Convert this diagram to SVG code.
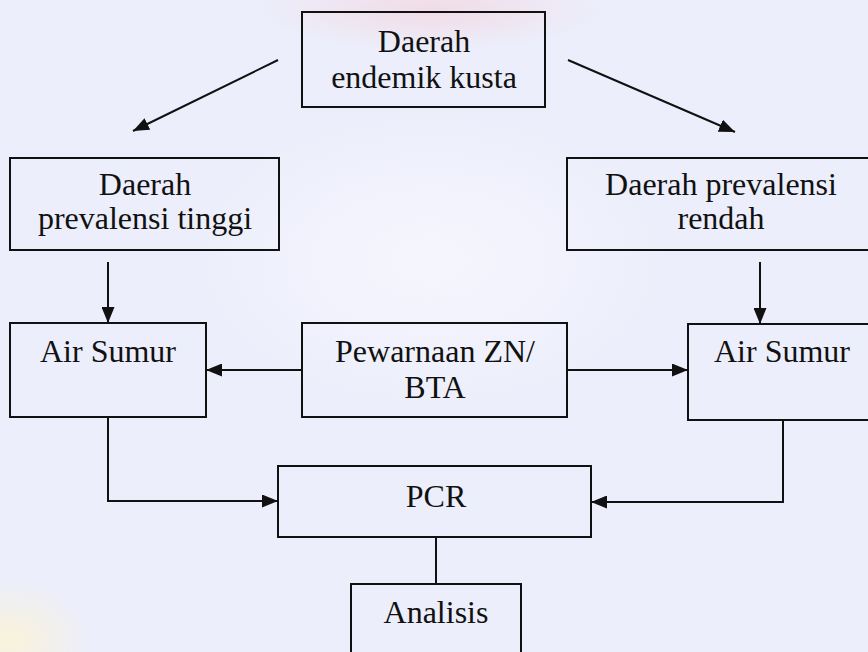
<svg xmlns="http://www.w3.org/2000/svg" width="868" height="652" viewBox="0 0 868 652">
  <defs>
    <marker id="arr" viewBox="0 0 16 13" refX="16" refY="6.5" markerWidth="16" markerHeight="13" markerUnits="userSpaceOnUse" orient="auto">
      <path d="M0,0 L16,6.5 L0,13 Z" fill="#111"/>
    </marker>
    <radialGradient id="pink" cx="0.5" cy="0.5" r="0.5">
      <stop offset="0" stop-color="#f6c9d0" stop-opacity="0.5"/>
      <stop offset="1" stop-color="#f6c9d0" stop-opacity="0"/>
    </radialGradient>
    <radialGradient id="yel" cx="0.5" cy="0.5" r="0.5">
      <stop offset="0" stop-color="#fbf3d6" stop-opacity="0.9"/>
      <stop offset="1" stop-color="#fbf3d6" stop-opacity="0"/>
    </radialGradient>
    <radialGradient id="wht" cx="0.5" cy="0.5" r="0.5">
      <stop offset="0" stop-color="#f8f8fe" stop-opacity="0.8"/>
      <stop offset="1" stop-color="#f8f8fe" stop-opacity="0"/>
    </radialGradient>
    <style>
      .box { fill: none; stroke: #111; stroke-width: 2; }
      .ln { fill: none; stroke: #111; stroke-width: 2; }
      .t { font-family: "Liberation Serif", "Times New Roman", serif; font-size: 32px; fill: #111; text-anchor: middle; }
    </style>
  </defs>
  <rect x="0" y="0" width="868" height="652" fill="#eceefb"/>
  <ellipse cx="430" cy="10" rx="170" ry="40" fill="url(#pink)"/>
  <ellipse cx="10" cy="640" rx="80" ry="60" fill="url(#yel)"/>
  <ellipse cx="430" cy="260" rx="240" ry="150" fill="url(#wht)"/>

  <g id="connectors">
    <line class="ln" x1="278" y1="60" x2="133" y2="131" marker-end="url(#arr)"/>
    <line class="ln" x1="568" y1="60" x2="735" y2="132" marker-end="url(#arr)"/>
    <line class="ln" x1="108" y1="262" x2="108" y2="323" marker-end="url(#arr)"/>
    <line class="ln" x1="760" y1="262" x2="760" y2="324" marker-end="url(#arr)"/>
    <line class="ln" x1="302" y1="370" x2="206" y2="370" marker-end="url(#arr)"/>
    <line class="ln" x1="567" y1="370" x2="688" y2="370" marker-end="url(#arr)"/>
    <polyline class="ln" points="108,417 108,501 278,501" marker-end="url(#arr)"/>
    <polyline class="ln" points="783,420 783,502 591,502" marker-end="url(#arr)"/>
    <line class="ln" x1="436" y1="537" x2="436" y2="584"/>
  </g>

  <g id="n-endemik">
    <rect class="box" x="302" y="12" width="243" height="95"/>
    <text class="t" x="424" y="52">Daerah</text>
    <text class="t" x="424" y="88">endemik kusta</text>
  </g>
  <g id="n-tinggi">
    <rect class="box" x="10" y="158" width="269" height="92"/>
    <text class="t" x="145" y="195">Daerah</text>
    <text class="t" x="145" y="229">prevalensi tinggi</text>
  </g>
  <g id="n-rendah">
    <rect class="box" x="567" y="158" width="310" height="92"/>
    <text class="t" x="721" y="195">Daerah prevalensi</text>
    <text class="t" x="721" y="229">rendah</text>
  </g>
  <g id="n-air-kiri">
    <rect class="box" x="10" y="323" width="196" height="94"/>
    <text class="t" x="108" y="362">Air Sumur</text>
  </g>
  <g id="n-pewarnaan">
    <rect class="box" x="302" y="323" width="265" height="94"/>
    <text class="t" x="435" y="362">Pewarnaan ZN/</text>
    <text class="t" x="435" y="398">BTA</text>
  </g>
  <g id="n-air-kanan">
    <rect class="box" x="688" y="324" width="190" height="96"/>
    <text class="t" x="782" y="362">Air Sumur</text>
  </g>
  <g id="n-pcr">
    <rect class="box" x="278" y="466" width="313" height="71"/>
    <text class="t" x="436" y="507">PCR</text>
  </g>
  <g id="n-analisis">
    <rect class="box" x="351" y="584" width="170" height="80"/>
    <text class="t" x="436" y="623">Analisis</text>
  </g>
</svg>
